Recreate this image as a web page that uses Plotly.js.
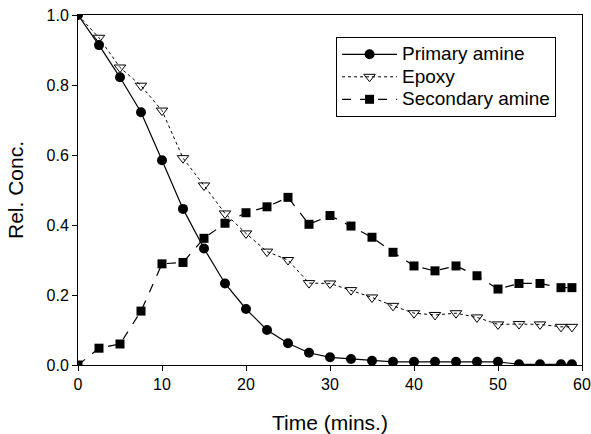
<!DOCTYPE html>
<html>
<head>
<meta charset="utf-8">
<script src="https://cdn.plot.ly/plotly-3.0.1.min.js"></script>
<style>
html,body{margin:0;padding:0;background:#fff;}
#chart{width:591px;height:434px;}
</style>
</head>
<body>
<div id="chart"></div>
<script>
const time = [0, 2.5, 5, 7.5, 10, 12.5, 15, 17.5, 20, 22.5, 25, 27.5, 30, 32.5, 35, 37.5, 40, 42.5, 45, 47.5, 50, 52.5, 55, 57.5, 58.8];
const primaryAmine = [1.0, 0.914, 0.822, 0.722, 0.585, 0.446, 0.333, 0.233, 0.16, 0.10, 0.062, 0.035, 0.022, 0.017, 0.012, 0.009, 0.009, 0.009, 0.009, 0.009, 0.009, 0.002, 0.002, 0.002, 0.002];
const epoxy = [1.0, 0.935, 0.85, 0.798, 0.727, 0.591, 0.513, 0.433, 0.376, 0.324, 0.30, 0.234, 0.233, 0.214, 0.193, 0.169, 0.148, 0.143, 0.148, 0.136, 0.116, 0.117, 0.116, 0.109, 0.109];
const secondaryAmine = [0.0, 0.048, 0.06, 0.154, 0.289, 0.293, 0.362, 0.405, 0.435, 0.452, 0.479, 0.402, 0.427, 0.397, 0.365, 0.322, 0.283, 0.269, 0.283, 0.255, 0.217, 0.233, 0.233, 0.221, 0.221];
const seriesNames = ["Primary amine", "Epoxy", "Secondary amine"];
const xTicks = [0, 10, 20, 30, 40, 50, 60];
const yTicks = [0.0, 0.2, 0.4, 0.6, 0.8, 1.0];

const font = "Liberation Sans, Arial, sans-serif";
// legend rows are tighter than the text size in the original
const legendName = n => '<span style="font-size:19px">' + n + '</span>';

const traces = [
  {
    x: time, y: primaryAmine, name: legendName(seriesNames[0]), type: "scatter", mode: "lines+markers",
    line: {color: "#000", width: 1.2, dash: "solid"},
    marker: {symbol: "circle", size: 10, color: "#000"}
  },
  {
    x: time, y: epoxy, name: legendName(seriesNames[1]), type: "scatter", mode: "lines+markers",
    line: {color: "#000", width: 1, dash: "dot"},
    marker: {symbol: "triangle-down-open", size: 10, color: "#000", line: {width: 1, color: "#000"}}
  },
  {
    x: time, y: secondaryAmine, name: legendName(seriesNames[2]), type: "scatter", mode: "lines+markers",
    line: {color: "#000", width: 1.2, dash: "dash"},
    marker: {symbol: "square", size: 9, color: "#000"}
  }
];

const layout = {
  width: 591, height: 434,
  margin: {l: 78, r: 9, t: 15, b: 69},
  paper_bgcolor: "#fff", plot_bgcolor: "#fff",
  font: {family: font, color: "#000", size: 16},
  showlegend: true,
  legend: {
    x: 0.512, y: 0.937, xanchor: "left", yanchor: "top",
    bgcolor: "#fff", bordercolor: "#000", borderwidth: 1,
    font: {family: font, size: 15, color: "#000"},
    tracegroupgap: 0, itemwidth: 55
  },
  xaxis: {
    range: [0, 60], tickvals: xTicks, ticktext: xTicks.map(String),
    showgrid: false, zeroline: false,
    showline: true, linecolor: "#000", linewidth: 1, mirror: true,
    ticks: "outside", ticklen: 5, tickcolor: "#000",
    tickfont: {family: font, size: 16, color: "#000"},
    title: {text: "Time (mins.)", font: {family: font, size: 21, color: "#000"}, standoff: 24}
  },
  yaxis: {
    range: [0, 1], tickvals: yTicks, ticktext: yTicks.map(v => v.toFixed(1)),
    showgrid: false, zeroline: false,
    showline: true, linecolor: "#000", linewidth: 1, mirror: true,
    ticks: "outside", ticklen: 5, tickcolor: "#000",
    tickfont: {family: font, size: 16, color: "#000"},
    title: {text: "Rel. Conc.", font: {family: font, size: 21, color: "#000"}, standoff: 17}
  }
};

Plotly.newPlot("chart", traces, layout, {displayModeBar: false, staticPlot: true});
</script>
</body>
</html>
